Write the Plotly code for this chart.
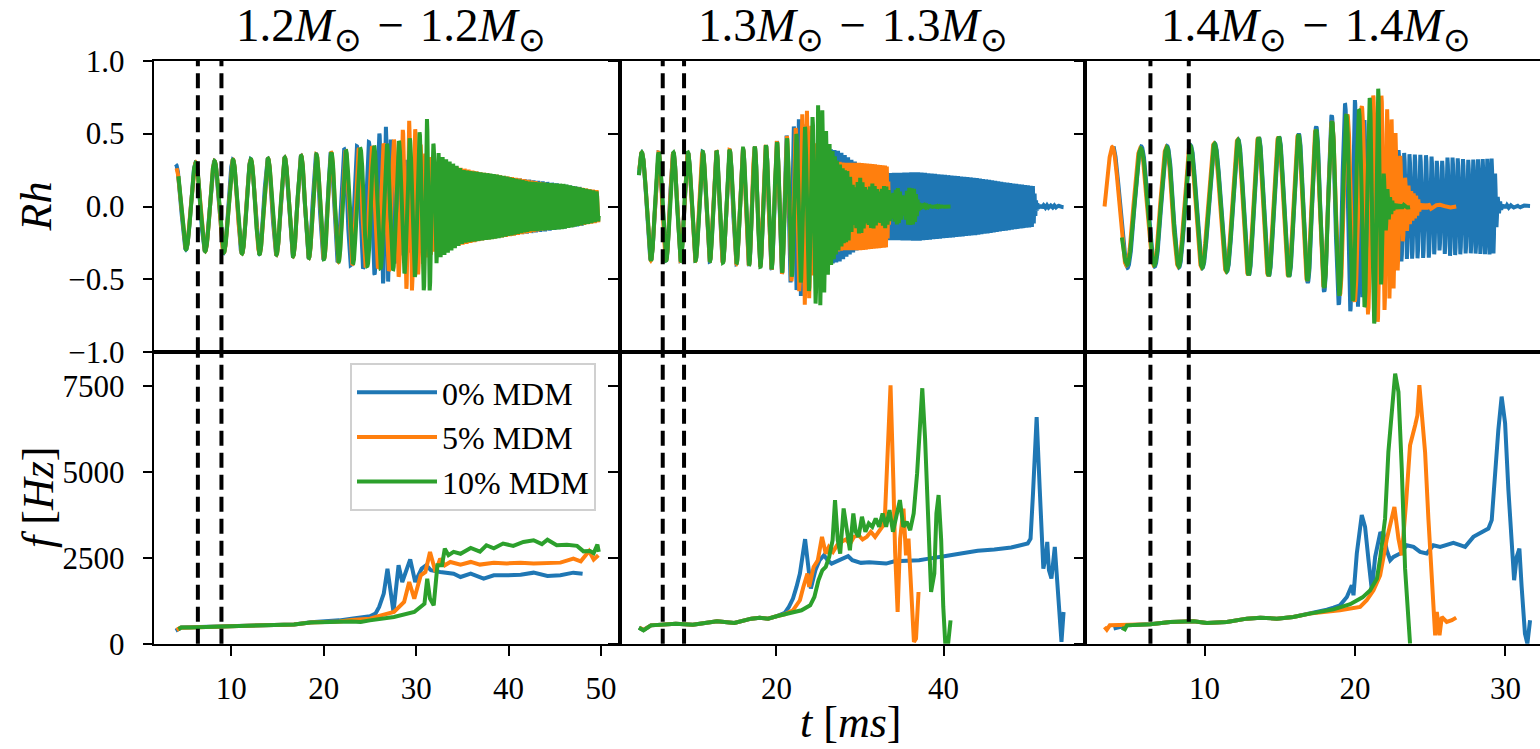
import numpy as np
import plotly.graph_objects as go

# ---------------- data ----------------
panel_titles = ["1.2<i>M</i><sub>⊙</sub>\u2004−\u20041.2<i>M</i><sub>⊙</sub>",
                "1.3<i>M</i><sub>⊙</sub>\u2004−\u20041.3<i>M</i><sub>⊙</sub>",
                "1.4<i>M</i><sub>⊙</sub>\u2004−\u20041.4<i>M</i><sub>⊙</sub>"]
series_names = ["0% MDM", "5% MDM", "10% MDM"]
series_colors = ["#1f77b4", "#ff7f0e", "#2ca02c"]
dashed_times = [6.4, 8.95]
x_ranges = [[1.7, 52.0], [1.24, 56.95], [2.07, 32.3]]
x_ticks = [[10, 20, 30, 40, 50], [20, 40], [10, 20, 30]]
rh_ticks = [-1.0, -0.5, 0.0, 0.5, 1.0]
f_ticks = [0, 2500, 5000, 7500]

# ---- 1.2 - 1.2 : frequency tracks f(t) [Hz] ----
t_f_12_0 = [4.0, 4.3, 4.6, 5.5, 7, 9, 10, 12.8, 15, 16.8, 18.6, 20, 21.7, 23, 24.3, 25.0, 25.6, 26.0, 26.5,
            26.9, 27.55, 28.1, 28.5, 29.36, 29.9, 30.6, 31.1, 31.6, 32.6, 34.05, 34.8, 35.9, 37.3, 38.4,
            39.8, 41.3, 42.7, 44.2, 45.6, 47.0, 48.0]
f_12_0 = [380, 440, 470, 480, 490, 500, 506, 535, 555, 560, 623, 640, 680, 730, 778, 800, 875, 1070, 1460,
          2186, 924, 2285, 1798, 2458, 1798, 2186, 2285, 2140, 2090, 2040, 1944, 2040, 1895, 1993,
          1993, 2010, 2070, 1975, 1993, 2070, 2040]
t_f_12_5 = [4.1, 4.5, 5.5, 7, 9, 10, 12.8, 15, 16.8, 18.6, 20, 21.7, 23, 24.0, 25.0, 26.2, 27.6, 28.7, 29.25,
            29.8, 30.5, 31.0, 31.5, 32.1, 32.6, 33.1, 33.7, 34.8, 35.9, 36.9, 38.4, 39.8, 41.3, 42.7,
            44.2, 45.6, 47.0, 47.8, 48.7, 49.2, 49.7]
f_12_5 = [400, 465, 475, 490, 500, 506, 535, 555, 560, 615, 620, 650, 690, 700, 730, 826, 924, 1215, 1798,
          1312, 1992, 2090, 2674, 2090, 2480, 2285, 2382, 2305, 2382, 2305, 2360, 2340, 2360, 2340,
          2340, 2362, 2480, 2400, 2700, 2450, 2577]
t_f_12_10 = [4.3, 4.6, 5.5, 7, 9, 10, 12.8, 15, 16.8, 18.6, 20, 21.7, 23, 24.0, 25, 27.6, 29.8, 30.9, 31.2,
             31.5, 31.9, 32.3, 32.8, 33.1, 33.5, 34.05, 34.8, 35.9, 36.9, 37.6, 38.4, 39.4, 40.5, 41.6,
             42.7, 43.6, 44.2, 45.2, 46.3, 47.4, 48.1, 48.8, 49.2, 49.6, 49.75]
f_12_10 = [420, 470, 475, 490, 500, 506, 535, 555, 560, 615, 615, 640, 650, 632, 680, 778, 924, 1166, 1895,
           1312, 1118, 2285, 2285, 2770, 2577, 2674, 2620, 2790, 2680, 2868, 2780, 2917, 2850, 2965,
           3015, 2900, 3030, 2868, 2885, 2850, 2690, 2700, 2640, 2885, 2674]

# ---- 1.2 - 1.2 : strain envelope |Rh| ----
t_a_12_0 = [4.0, 6, 10, 15, 18, 20, 22.8, 24, 25.3, 26.3, 26.8, 27.3, 28, 30, 33, 36, 40, 44, 48]
a_12_0 = [0.29, 0.3, 0.32, 0.33, 0.35, 0.36, 0.4, 0.42, 0.45, 0.52, 0.55, 0.45, 0.34, 0.3, 0.27, 0.24, 0.2, 0.17, 0.13]
t_a_12_5 = [4.1, 6, 10, 15, 18, 20, 22.8, 25, 27, 28, 29.2, 29.7, 30.3, 31, 32, 33.5, 36.9, 40.5, 44.1, 47.7, 49.7]
a_12_5 = [0.27, 0.3, 0.32, 0.33, 0.35, 0.36, 0.39, 0.41, 0.44, 0.47, 0.59, 0.57, 0.45, 0.36, 0.31, 0.285,
          0.235, 0.2, 0.16, 0.13, 0.11]
t_a_12_10 = [4.3, 6, 10, 15, 18, 20, 22.8, 25, 27, 28.5, 29.5, 30.3, 31.0, 31.4, 31.9, 32.6, 35.1, 38.7,
             42.3, 45.9, 49.2, 49.75]
a_12_10 = [0.29, 0.3, 0.32, 0.33, 0.35, 0.36, 0.39, 0.41, 0.43, 0.455, 0.47, 0.5, 0.6, 0.6, 0.42, 0.35,
           0.25, 0.22, 0.17, 0.155, 0.11, 0.1]

# ---- 1.3 - 1.3 : frequency tracks ----
t_f_13_0 = [3.55, 4.1, 4.99, 7.96, 10.0, 12.0, 12.9, 14.97, 17.0, 18.0, 19.0, 20.0, 21.0, 21.49, 21.98,
            22.4, 22.81, 23.43, 23.92, 24.12, 24.66, 25.16, 25.69, 26.11, 26.6, 27.1, 28.09, 28.58, 29.08,
            29.61, 30.11, 31.1, 32.08, 33.12, 34.11, 35.1, 36.09, 37.07, 38.06, 39.1, 40.08, 42.06, 44.08,
            46.06, 48.08, 50.06, 50.4, 50.7, 51.13, 51.5, 51.93, 52.2, 52.4, 52.6, 52.9, 53.3, 53.6, 53.9,
            54.1, 54.35]
f_13_0 = [467, 400, 535, 584, 555, 603, 652, 603, 730, 759, 730, 798, 895, 1070, 1314,
          1654, 2043, 3046, 2140, 1605, 2140, 2432, 2578, 2432, 2335, 2384, 2510, 2549, 2432,
          2384, 2355, 2370, 2355, 2335, 2403, 2413, 2400, 2432, 2471, 2500, 2549, 2627, 2705,
          2744, 2802, 2919, 3060, 4400, 6600, 4500, 2186, 2500, 2964, 2140, 1900, 2818, 1800, 900,
          50, 924]
t_f_13_5 = [3.6, 4.1, 4.99, 7.96, 10.0, 12.0, 12.9, 14.97, 17.0, 18.0, 19.0, 20.0, 21.0, 21.98, 22.81,
            23.22, 23.71, 23.92, 24.45, 24.95, 25.45, 25.9, 26.27, 26.77, 27.26, 27.76, 28.29, 28.79,
            29.28, 29.82, 30.31, 30.81, 31.3, 31.8, 32.29, 32.79, 33.0, 33.3, 33.65, 33.98, 34.2, 34.5,
            34.8, 35.2, 35.5, 35.8, 36.1, 36.45, 36.7, 37.0]
f_13_5 = [470, 400, 535, 584, 555, 603, 652, 603, 730, 759, 730, 798, 856, 973, 1265,
          1654, 2043, 1654, 2237, 2432, 3113, 2627, 2820, 2675, 2870, 2967, 3035, 2900,
          3113, 3162, 3035, 3113, 3260, 3113, 3308, 3454, 3838, 5585, 7530, 4810, 2672, 924,
          3060, 3934, 2575, 3060, 1700, 50, 150, 1506]
t_f_13_10 = [3.55, 4.1, 4.99, 7.96, 10.0, 12.0, 12.9, 14.97, 17.0, 18.0, 19.0, 20.0, 21.0, 21.98, 23.0,
             24.04, 24.54, 25.03, 25.49, 25.9, 26.31, 26.72, 27.01, 27.34, 27.63, 28.04, 28.46, 28.79,
             29.2, 29.49, 29.82, 30.23, 30.64, 31.05, 31.47, 31.88, 32.29, 32.7, 33.12, 33.53, 33.94,
             34.35, 34.77, 35.18, 35.59, 36.0, 36.42, 36.83, 37.16, 37.45, 37.78, 38.06, 38.5, 38.89,
             39.14, 39.4, 39.71, 39.96, 40.2, 40.54, 40.83]
f_13_10 = [467, 390, 535, 584, 555, 603, 652, 603, 730, 759, 730, 798, 856, 895, 973,
           1119, 1362, 1849, 2140, 2238, 2530, 3016, 4184, 3016, 2627, 3940, 3308, 2724,
           3794, 3260, 3113, 3697, 3260, 3503, 3406, 3648, 3406, 3794, 3406, 3892, 3260,
           3794, 4184, 3406, 3552, 3308, 3794, 4962, 6422, 7443, 6000, 3990, 1506, 2043,
           3794, 4330, 3016, 1070, 0, 0, 680]

# ---- 1.3 - 1.3 : strain envelope ----
t_a_13_0 = [3.55, 10, 15, 19, 21, 22.5, 22.9, 23.4, 24, 25, 26, 27.5, 29, 31, 33.5, 37, 40.5, 44, 48,
            50.7, 51.1, 51.4, 54.35]
a_13_0 = [0.37, 0.37, 0.39, 0.42, 0.47, 0.58, 0.62, 0.5, 0.35, 0.35, 0.4, 0.38, 0.32, 0.26, 0.23, 0.235,
          0.215, 0.195, 0.16, 0.14, 0.03, 0.01, 0.005]
t_a_13_5 = [3.6, 10, 15, 19, 21, 22.5, 23.44, 24.0, 24.5, 25.5, 26.5, 28, 30, 33.2, 33.6, 34.5, 37.0]
a_13_5 = [0.37, 0.37, 0.39, 0.42, 0.47, 0.55, 0.68, 0.62, 0.45, 0.35, 0.32, 0.3, 0.3, 0.28, 0.05, 0.01, 0.003]
t_a_13_10 = [3.55, 10, 15, 19, 21, 22.5, 23.5, 24.4, 24.9, 25.5, 26.0, 26.4, 27.2, 28.1, 28.6, 29.3, 30.0,
             30.8, 31.5, 32.3, 33.0, 33.8, 34.5, 35.2, 35.8, 36.5, 37.0, 37.6, 40.83]
a_13_10 = [0.37, 0.37, 0.39, 0.42, 0.46, 0.5, 0.55, 0.62, 0.7, 0.66, 0.5, 0.42, 0.32, 0.25, 0.24, 0.12,
           0.2, 0.11, 0.16, 0.1, 0.15, 0.08, 0.13, 0.06, 0.13, 0.12, 0.03, 0.005, 0.002]

# ---- 1.4 - 1.4 : frequency tracks ----
t_f_14_0 = [3.95, 4.2, 4.84, 6.39, 7.72, 9.27, 10.15, 11.48, 12.81, 13.7, 14.8, 15.9, 17.0, 18.13, 18.57,
            19.0, 19.46, 19.79, 19.9, 20.12, 20.45, 20.67, 20.9, 21.12, 21.34, 21.67, 21.89, 22.11, 22.34,
            22.56, 23.0, 23.44, 23.89, 24.33, 24.77, 25.21, 25.66, 26.1, 26.54, 26.99, 27.32, 27.87,
            28.54, 28.87, 29.09, 29.31, 29.53, 29.75, 29.98, 30.2, 30.42, 30.58, 30.75, 30.93, 31.08,
            31.3, 31.46, 31.64]
f_14_0 = [438, 470, 535, 564, 632, 652, 603, 632, 730, 759, 730, 778, 876, 992, 1050,
          1119, 1362, 1703, 1411, 2627, 3746, 3406, 2432, 1557, 2530, 3211, 3230, 2724, 2432,
          2530, 2627, 2870, 2822, 2675, 2627, 2870, 2822, 2870, 2938, 2870, 2822, 3113,
          3260, 3357, 3600, 4962, 6227, 7200, 6422, 4476, 2822, 1849, 2530, 2773, 1654,
          292, 0, 681]
t_f_14_5 = [3.35, 3.5, 3.7, 4.84, 6.39, 7.72, 9.27, 10.15, 11.48, 12.81, 13.7, 14.8, 15.9, 17.0, 18.13,
            19.0, 20.34, 20.78, 21.23, 21.67, 22.12, 22.62, 22.89, 23.11, 23.4, 23.66, 24.0, 24.15, 24.28,
            24.44, 24.66, 24.88, 25.1, 25.33, 25.44, 25.62, 25.77, 26.1, 26.44, 26.73]
f_14_5 = [487, 408, 535, 535, 564, 632, 652, 603, 632, 730, 759, 730, 778, 876, 930,
          973, 1070, 1265, 1557, 1993, 3060, 3983, 3060, 2575, 4130, 5780, 6363, 6654, 7530,
          6752, 5585, 3643, 1700, 245, 925, 245, 780, 635, 684, 760]
t_f_14_10 = [4.5, 4.7, 4.84, 6.39, 7.72, 9.27, 10.15, 11.48, 12.81, 13.7, 14.8, 15.9, 17.0, 18.13, 18.57,
             19.68, 20.5, 21.0, 21.46, 21.67, 22.0, 22.22, 22.45, 22.67, 22.89, 23.11, 23.33, 23.55, 23.66]
f_14_10 = [467, 420, 535, 564, 632, 652, 603, 632, 730, 759, 730, 778, 876, 953, 1000,
           1150, 1350, 1550, 1895, 2478, 3643, 5585, 6945, 7868, 7334, 5100, 2186, 536, 0]

# ---- 1.4 - 1.4 : strain envelope ----
t_a_14_0 = [3.95, 6, 10, 13, 15.8, 17.3, 18.2, 19.2, 20.0, 20.6, 21.3, 22.3, 23.4, 25.0, 25.6, 26.2,
            27.5, 29.2, 29.5, 29.8, 31.64]
a_14_0 = [0.43, 0.41, 0.42, 0.47, 0.48, 0.54, 0.6, 0.7, 0.73, 0.6, 0.45, 0.42, 0.36, 0.35, 0.3, 0.34,
          0.32, 0.33, 0.06, 0.01, 0.005]
t_a_14_5 = [3.35, 6, 10, 13, 15.8, 17.3, 18.2, 19.2, 20.2, 20.8, 21.6, 22.0, 22.55, 22.9, 23.2, 23.7,
            24.1, 24.35, 26.73]
a_14_5 = [0.41, 0.4, 0.42, 0.47, 0.48, 0.52, 0.57, 0.62, 0.66, 0.72, 0.8, 0.7, 0.57, 0.41, 0.23, 0.11,
          0.07, 0.02, 0.005]
t_a_14_10 = [4.5, 6, 10, 13, 15.8, 17.3, 18.2, 19.2, 20.2, 20.8, 21.2, 21.6, 21.9, 22.1, 22.3, 22.6, 23.66]
a_14_10 = [0.4, 0.4, 0.42, 0.47, 0.48, 0.52, 0.57, 0.62, 0.66, 0.7, 0.8, 0.81, 0.23, 0.14, 0.07, 0.02, 0.005]

# initial GW phase of the earliest-starting series in each panel [rad]
start_phase = [0.0, -0.95, -np.pi / 2]

panels = [
    [(t_f_12_0, f_12_0, t_a_12_0, a_12_0), (t_f_12_5, f_12_5, t_a_12_5, a_12_5),
     (t_f_12_10, f_12_10, t_a_12_10, a_12_10)],
    [(t_f_13_0, f_13_0, t_a_13_0, a_13_0), (t_f_13_5, f_13_5, t_a_13_5, a_13_5),
     (t_f_13_10, f_13_10, t_a_13_10, a_13_10)],
    [(t_f_14_0, f_14_0, t_a_14_0, a_14_0), (t_f_14_5, f_14_5, t_a_14_5, a_14_5),
     (t_f_14_10, f_14_10, t_a_14_10, a_14_10)],
]

# ---------------- helpers ----------------
DT = 0.004  # ms


def phase_track(t_f, f):
    t = np.arange(t_f[0], t_f[-1] + 1e-9, DT)
    fi = np.interp(t, t_f, f)
    inc = 0.5 * (fi[1:] + fi[:-1]) * DT * 1e-3 * 2 * np.pi
    return t, np.concatenate([[0.0], np.cumsum(inc)])


def ax_suffix(i):
    return "" if i == 1 else str(i)


# ---------------- layout geometry ----------------
W, H = 1540, 749
col_px = [(154.4, 619.6), (619.6, 1085.3), (1085.3, 1540.0)]
row_px = [(60.7, 352.3), (352.3, 643.7)]
FONT = "Liberation Serif"

fig = go.Figure()

for c in range(3):
    series = panels[c]
    starts = [s[0][0] for s in series]
    ref = int(np.argmin(starts))
    t_ref, ph_ref = phase_track(series[ref][0], series[ref][1])
    ph_ref = ph_ref + start_phase[c]
    for k, (t_f, f, t_a, a) in enumerate(series):
        t, ph = phase_track(t_f, f)
        phi0 = start_phase[c] if k == ref else float(np.interp(t_f[0], t_ref, ph_ref))
        amp = np.interp(t, t_a, a)
        h = amp * np.cos(ph + phi0)
        top_ax = ax_suffix(c + 1)
        bot_ax = ax_suffix(c + 4)
        fig.add_trace(go.Scatter(x=t, y=h, mode="lines",
                                 line=dict(color=series_colors[k], width=4),
                                 xaxis="x" + top_ax, yaxis="y" + top_ax,
                                 showlegend=False, hoverinfo="skip"))
        fig.add_trace(go.Scatter(x=t_f, y=f, mode="lines", name=series_names[k],
                                 line=dict(color=series_colors[k], width=4),
                                 xaxis="x" + bot_ax, yaxis="y" + bot_ax,
                                 showlegend=(c == 0), hoverinfo="skip"))

axis_common = dict(showgrid=False, zeroline=False, showline=True, linecolor="black",
                   linewidth=2.2, mirror=True, ticks="outside", ticklen=9.7, tickwidth=2.2,
                   tickcolor="black", automargin=False,
                   tickfont=dict(family=FONT, size=31, color="black"))
layout = {}
for r in range(2):
    for c in range(3):
        i = r * 3 + c + 1
        s = ax_suffix(i)
        x0, x1 = col_px[c]
        ytop, ybot = row_px[r]
        xa = dict(axis_common)
        xa.update(domain=[x0 / W, x1 / W], range=x_ranges[c], anchor="y" + s,
                  tickvals=x_ticks[c], ticklabelstandoff=6)
        if r == 0:
            xa.update(showticklabels=False, ticks="")
        ya = dict(axis_common)
        ya.update(domain=[1 - ybot / H, 1 - ytop / H], anchor="x" + s, ticklabelstandoff=12)
        if r == 0:
            ya.update(range=[-1, 1], tickvals=rh_ticks, tickformat=".1f")
        else:
            ya.update(range=[0, 8490], tickvals=f_ticks, tickformat="d")
        if c > 0:
            ya.update(showticklabels=False)
        layout["xaxis" + s] = xa
        layout["yaxis" + s] = ya

shapes = []
for i in range(1, 7):
    s = ax_suffix(i)
    for td in dashed_times:
        shapes.append(dict(type="line", xref="x" + s, yref="y" + s + " domain", x0=td, x1=td, y0=0, y1=1,
                           line=dict(color="black", width=4, dash="15px,7px"), layer="above"))

annotations = []
title_x = [391, 853, 1316]
for c in range(3):
    annotations.append(dict(text=panel_titles[c], x=title_x[c] / W, y=1 - 28 / H, xref="paper",
                            yref="paper", xanchor="center", yanchor="middle", showarrow=False,
                            font=dict(family=FONT, size=47, color="black")))
annotations.append(dict(text="<i>Rh</i>", x=36 / W, y=1 - 206.5 / H, xref="paper", yref="paper",
                        textangle=-90, xanchor="center", yanchor="middle", showarrow=False,
                        font=dict(family=FONT, size=44, color="black")))
annotations.append(dict(text="<i>f</i> [<i>Hz</i>]", x=38 / W, y=1 - 498 / H, xref="paper", yref="paper",
                        textangle=-90, xanchor="center", yanchor="middle", showarrow=False,
                        font=dict(family=FONT, size=44, color="black")))
annotations.append(dict(text="<i>t</i> [<i>ms</i>]", x=850 / W, y=1 - 722 / H, xref="paper", yref="paper",
                        xanchor="center", yanchor="middle", showarrow=False,
                        font=dict(family=FONT, size=44, color="black")))

fig.update_layout(
    width=W, height=H, margin=dict(l=0, r=0, t=0, b=0, autoexpand=False),
    paper_bgcolor="white", plot_bgcolor="white",
    showlegend=True,
    legend=dict(x=350 / W, y=1 - 363 / H, xanchor="left", yanchor="top",
                bgcolor="white", bordercolor="#d0d0d0", borderwidth=2,
                font=dict(family=FONT, size=32, color="black"), itemwidth=80,
                tracegroupgap=0),
    shapes=shapes, annotations=annotations,
    **layout,
)

fig.write_html("out.html")
